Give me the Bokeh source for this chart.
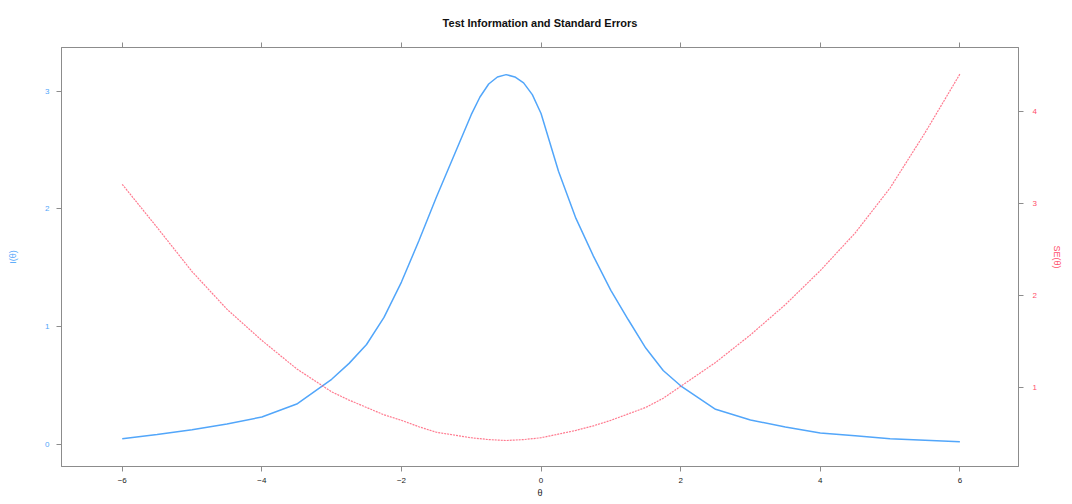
from bokeh.plotting import figure
from bokeh.models import Range1d, LinearAxis, FixedTicker
from bokeh.embed import file_html
from bokeh.resources import INLINE

# ---- data ----
theta = [-6, -5.5, -5, -4.5, -4, -3.5, -3, -2.75, -2.5, -2.25, -2, -1.75, -1.5, -1.25,
         -1, -0.875, -0.75, -0.625, -0.5, -0.375, -0.25, -0.125, 0, 0.25, 0.5, 0.75,
         1, 1.25, 1.5, 1.75, 2, 2.5, 3, 3.5, 4, 4.5, 5, 5.5, 6]
info = [0.05, 0.087, 0.126, 0.176, 0.235, 0.345, 0.555, 0.69, 0.85, 1.08, 1.38, 1.73,
        2.10, 2.45, 2.80, 2.95, 3.06, 3.12, 3.14, 3.12, 3.07, 2.97, 2.81, 2.32, 1.92,
        1.60, 1.31, 1.06, 0.82, 0.63, 0.50, 0.30, 0.21, 0.15, 0.10, 0.076, 0.05,
        0.038, 0.025]
se = [3.21, 2.74, 2.26, 1.85, 1.51, 1.20, 0.95, 0.86, 0.78, 0.70, 0.64, 0.57, 0.51,
      0.48, 0.45, 0.44, 0.43, 0.425, 0.42, 0.425, 0.43, 0.44, 0.45, 0.49, 0.53, 0.58,
      0.64, 0.71, 0.78, 0.88, 1.01, 1.27, 1.57, 1.90, 2.27, 2.68, 3.17, 3.77, 4.41]
x_ticks = [-6, -4, -2, 0, 2, 4, 6]
info_ticks = [0, 1, 2, 3]
se_ticks = [1, 2, 3, 4]

BLUE = "#52a6fa"
RED = "#ff4d6a"
AXIS = "#8c8c8c"
FONT = "Liberation Sans"

p = figure(width=1064, height=500, output_backend="svg", toolbar_location=None,
           x_range=Range1d(-6.87, 6.84), y_range=Range1d(-0.185, 3.37),
           min_border_left=61, min_border_right=42, min_border_top=46,
           min_border_bottom=33, x_axis_location=None, y_axis_location=None)
p.extra_y_ranges = {"se": Range1d(0.137, 4.70)}
p.grid.visible = False
p.outline_line_color = AXIS
p.outline_line_width = 1

p.title.text = "Test Information and Standard Errors"
p.title.align = "center"
p.title.text_font = FONT
p.title.text_font_size = "11px"
p.title.text_font_style = "bold"
p.title.text_color = "#111111"
p.title.standoff = 28

def style(ax, color, size="8px"):
    ax.axis_line_color = AXIS
    ax.major_tick_line_color = AXIS
    ax.minor_tick_line_color = None
    ax.major_tick_in = 0
    ax.major_tick_out = 5
    ax.major_label_text_font = FONT
    ax.major_label_text_font_size = size
    ax.major_label_text_color = color
    ax.axis_label_text_font = FONT
    ax.axis_label_text_font_size = "9px"
    ax.axis_label_text_font_style = "normal"
    ax.axis_label_text_color = color

bottom = LinearAxis(ticker=FixedTicker(ticks=x_ticks), axis_label="θ")
style(bottom, "#222222", "8px")
bottom.major_label_standoff = 6
bottom.axis_label_standoff = 2
p.add_layout(bottom, "below")

top = LinearAxis(ticker=FixedTicker(ticks=x_ticks))
style(top, "#222222", "0px")
top.major_label_text_color = None
top.major_label_standoff = 0
p.add_layout(top, "above")

left = LinearAxis(ticker=FixedTicker(ticks=info_ticks), axis_label="I(θ)")
style(left, BLUE)
left.major_label_orientation = "horizontal"
left.major_label_standoff = 7
left.axis_label_standoff = 24
p.add_layout(left, "left")

right = LinearAxis(y_range_name="se", ticker=FixedTicker(ticks=se_ticks), axis_label="SE(θ)")
style(right, RED)
right.major_label_orientation = "horizontal"
right.major_label_standoff = 9
right.axis_label_standoff = 12
p.add_layout(right, "right")

p.line(theta, info, line_color=BLUE, line_width=1.5)
p.line(theta, se, y_range_name="se", line_color=RED, line_width=1.2,
       line_dash="2 1", line_alpha=0.75)

open("out.html", "w").write(file_html(p, INLINE))
